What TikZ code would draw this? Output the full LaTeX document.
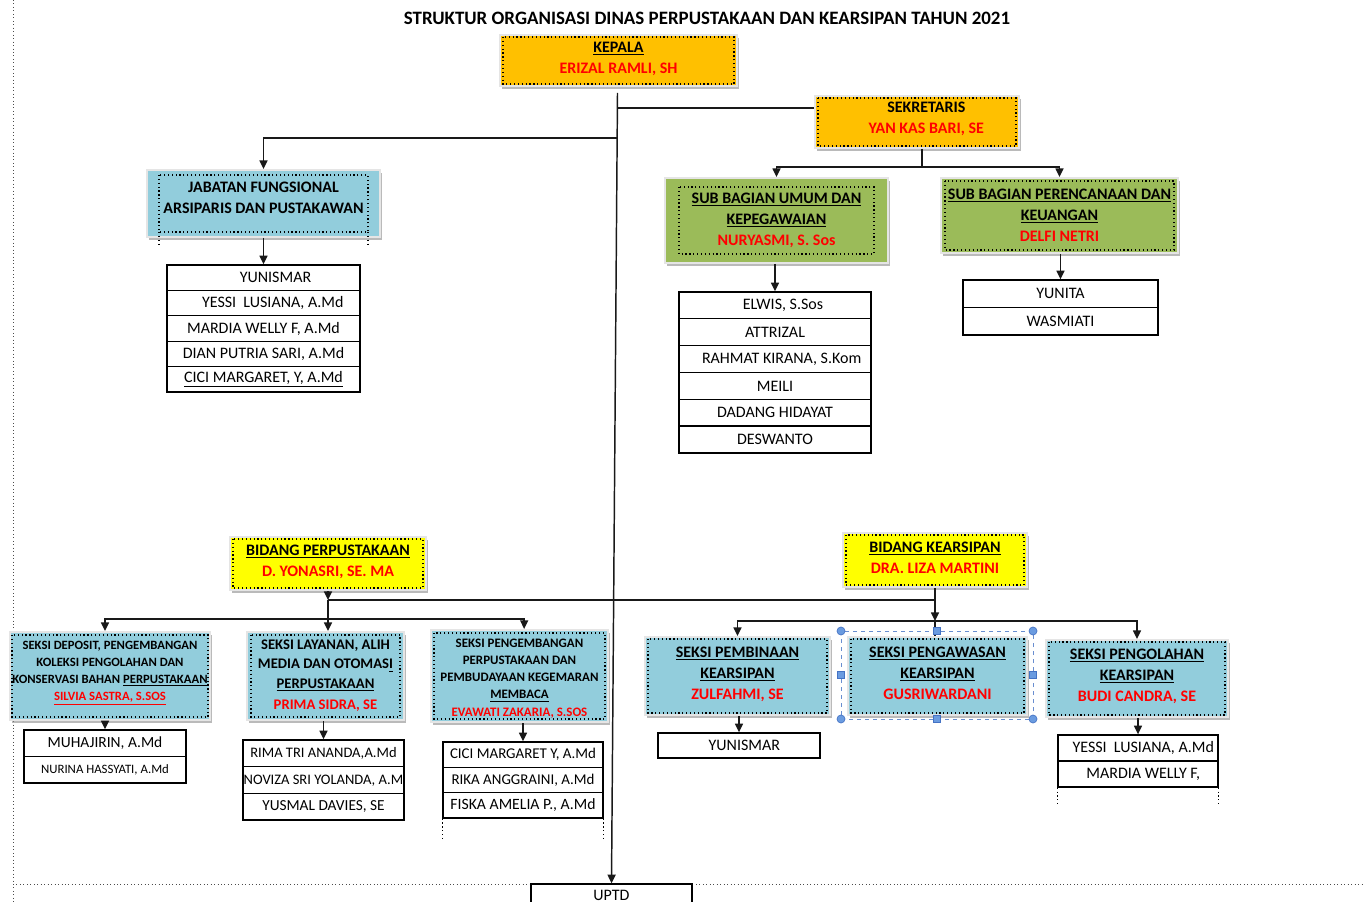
\documentclass[tikz,border=0pt]{standalone}
\usepackage{fontspec}
\setmainfont{Carlito}
\usetikzlibrary{shadows,arrows.meta,calc}
\definecolor{org}{HTML}{FFC000}
\definecolor{grn}{HTML}{9BBB59}
\definecolor{lblue}{HTML}{92CDDC}
\definecolor{ylw}{HTML}{FFFF00}
\definecolor{rd}{HTML}{FF0000}
\definecolor{selb}{HTML}{4472C4}
\definecolor{hfill}{HTML}{6A9BE0}
\newcommand\redname[1]{\textcolor{rd}{#1}}
\newcommand\dep[1]{\rule[-#1]{0pt}{#1}}
\begin{document}
\begin{tikzpicture}[x=0.75pt,y=-0.75pt,
  sz/.style 2 args={minimum width=#1*0.75pt, minimum height=#2*0.75pt},
  hdr/.style={font=\fontsize{12}{15.75}\selectfont\bfseries, align=center, inner sep=0pt,
    draw=black!10, line width=1.5pt,
    drop shadow={shadow xshift=1.5pt, shadow yshift=-2.5pt, fill=black!45, opacity=0.6}},
  staff/.style={draw=black, line width=1pt, fill=white, inner sep=0pt, font=\fontsize{12}{13}\selectfont},
  inframe/.style={dotted, line width=0.9pt, black},
  conn/.style={line width=1.1pt, black!90},
  arr/.style={conn, -{Triangle[length=6.5pt,width=6pt]}},
  sq/.style={draw=selb, fill=hfill, minimum size=5pt, inner sep=0pt, line width=0.5pt}]
\useasboundingbox (0,0) rectangle (1365,902);
\fill[white] (0,0) rectangle (1365,902);

% page borders
\draw[dotted, line width=0.6pt, black!70] (13,0) coordinate (bl1) -- (13,902) coordinate (bl2);
\draw[dotted, line width=0.6pt, black!70] (13,884) coordinate (bb1) -- (1365,884) coordinate (bb2);

% title
\node[font=\fontsize{14.2}{16}\selectfont\bfseries] (title) at (707,18)
  {STRUKTUR ORGANISASI DINAS PERPUSTAKAAN DAN KEARSIPAN TAHUN 2021};

% top level boxes
\node[hdr, fill=org, sz={237}{51}] (kep) at (618.5,60.5)
  {\underline{KEPALA}\\\redname{ERIZAL RAMLI, SH}\dep{4.5pt}};
\node[hdr, fill=org, sz={204}{52}] (sek) at (917,122)
  {\hspace*{14pt}SEKRETARIS\\\hspace*{14pt}\redname{YAN KAS BARI, SE}\dep{6.5pt}};
\node[hdr, fill=lblue, sz={233}{67}] (jf) at (263.5,203.5)
  {JABATAN FUNGSIONAL\\ARSIPARIS DAN PUSTAKAWAN\dep{9pt}};
\node[hdr, fill=grn, sz={223}{85}] (umum) at (776.5,220.5)
  {\underline{SUB BAGIAN UMUM DAN}\\\underline{KEPEGAWAIAN}\\\redname{NURYASMI, S. Sos}};
\node[hdr, fill=grn, sz={237}{75}] (per) at (1059.5,215.5)
  {\underline{SUB BAGIAN PERENCANAAN DAN}\\\underline{KEUANGAN}\\\redname{DELFI NETRI}};

% bidang boxes
\node[hdr, fill=ylw, sz={196}{53}] (bper) at (328,563.5)
  {\underline{BIDANG PERPUSTAKAAN}\\\redname{D. YONASRI, SE. MA}\dep{4.5pt}};
\node[hdr, fill=ylw, sz={184}{54}] (bkear) at (935,560)
  {\underline{BIDANG KEARSIPAN}\\\redname{DRA. LIZA MARTINI}\dep{4pt}};

% seksi boxes (perpustakaan)
\node[hdr, font=\fontsize{9.5}{12.75}\selectfont\bfseries, fill=lblue, sz={200}{88}] (sdep) at (110,676)
  {SEKSI DEPOSIT, PENGEMBANGAN\\KOLEKSI PENGOLAHAN DAN\\KONSERVASI BAHAN \underline{PERPUSTAKAAN}\\\textcolor{rd}{\underline{SILVIA SASTRA, S.SOS}}\dep{7.5pt}};
\node[hdr, font=\fontsize{11}{14.3}\selectfont\bfseries, fill=lblue, sz={157}{88}] (slay) at (325.5,676)
  {SEKSI LAYANAN, ALIH\\MEDIA DAN OTOMAS\underline{I}\\\underline{PERPUSTAKAAN}\\[1.5pt]\redname{PRIMA SIDRA, SE}\dep{2pt}};
\node[hdr, font=\fontsize{9.7}{12.9}\selectfont\bfseries, fill=lblue, sz={177}{92}] (speng) at (519.5,676)
  {\rule{0pt}{10pt}SEKSI PENGEMBANGAN\\PERPUSTAKAAN DAN\\PEMBUDAYAAN KEGEMARAN\\\underline{MEMBACA}\\\redname{EVAWATI ZAKARIA, S.SOS}};

% seksi boxes (kearsipan)
\node[hdr, fill=lblue, sz={185}{78}] (spemb) at (737.5,676)
  {\underline{SEKSI PEMBINAAN}\\\underline{KEARSIPAN}\\\redname{ZULFAHMI, SE}\dep{4.5pt}};
\node[hdr, fill=lblue, sz={179}{78}] (spengaw) at (937.5,676)
  {\underline{SEKSI PENGAWASAN}\\\underline{KEARSIPAN}\\\redname{GUSRIWARDANI}\dep{4.5pt}};
\node[hdr, fill=lblue, sz={182}{77}] (spengol) at (1137,678.5)
  {\underline{SEKSI PENGOLAHAN}\\\underline{KEARSIPAN}\\\redname{BUDI CANDRA, SE}\dep{5pt}};

% inner dotted frames
\foreach \n/\dx/\dy in {kep/4/3, sek/4/3, jf/13/6, umum/15/10, per/5/4, bper/4/3, bkear/4/3,
  sdep/3/4, slay/5/4, speng/4/4, spemb/4/3, spengaw/4/3, spengol/4/3}
  \draw[inframe] ([shift={(\dx,\dy)}]\n.north west) rectangle ([shift={(-\dx,-\dy)}]\n.south east);
\draw[inframe] ([shift={(13,-6)}]jf.south west) -- ++(0,13);
\draw[inframe] ([shift={(-13,-6)}]jf.south east) -- ++(0,13);

% staff lists
% jabatan fungsional
\node[staff, sz={193}{25.4}] (j1) at (263.5,277.7) {\hspace*{18pt}YUNISMAR};
\node[staff, sz={193}{25.4}] (j2) at (263.5,303.1) {\hspace*{14pt}YESSI\ \ LUSIANA, A.Md};
\node[staff, sz={193}{25.4}] (j3) at (263.5,328.5) {MARDIA WELLY F, A.Md};
\node[staff, sz={193}{25.4}] (j4) at (263.5,353.9) {DIAN PUTRIA SARI, A.Md};
\node[staff, sz={193}{25.4}] (j5) at (263.5,379.3) {\underline{CICI MARGARET, Y, A.Md}};
% umum
\node[staff, sz={192}{26.83}] (u1) at (775,305.4) {\hspace*{12pt}ELWIS, S.Sos};
\node[staff, sz={192}{26.83}] (u2) at (775,332.2) {ATTRIZAL};
\node[staff, sz={192}{26.83}] (u3) at (775,359.1) {\hspace*{10pt}RAHMAT KIRANA, S.Kom};
\node[staff, sz={192}{26.83}] (u4) at (775,385.9) {MEILI};
\node[staff, sz={192}{26.83}] (u5) at (775,412.7) {DADANG HIDAYAT};
\node[staff, sz={192}{26.83}] (u6) at (775,439.6) {DESWANTO};
% perencanaan
\node[staff, sz={195}{27.5}] (p1) at (1060.5,293.75) {YUNITA};
\node[staff, sz={195}{27.5}] (p2) at (1060.5,321.25) {WASMIATI};
% seksi deposit
\node[staff, sz={162}{26.5}, font=\fontsize{11.6}{13}\selectfont] (d1) at (105,743.25) {MUHAJIRIN, A.Md};
\node[staff, sz={162}{26.5}, font=\fontsize{9.6}{11}\selectfont] (d2) at (105,769.75) {NURINA HASSYATI, A.Md};
% seksi layanan
\node[staff, sz={161}{26.7}, font=\fontsize{10.9}{12}\selectfont] (l1) at (323.5,753.35) {RIMA TRI ANANDA,A.Md};
\node[staff, sz={161}{26.7}, font=\fontsize{10.9}{12}\selectfont,
  path picture={\node[anchor=west, inner sep=0pt, font=\fontsize{10.9}{12}\selectfont]
    at (path picture bounding box.west) {NOVIZA SRI YOLANDA, A.Md};}] (l2) at (323.5,780.05) {};
\node[staff, sz={161}{26.7}, font=\fontsize{11.5}{13}\selectfont] (l3) at (323.5,806.75) {YUSMAL DAVIES, SE};
% seksi pengembangan
\node[staff, sz={160}{25.3}, font=\fontsize{11.2}{12}\selectfont] (n1) at (523,754.65) {CICI MARGARET Y, A.Md};
\node[staff, sz={160}{25.3}, font=\fontsize{11.2}{12}\selectfont] (n2) at (523,779.95) {RIKA ANGGRAINI, A.Md};
\node[staff, sz={160}{25.3}, font=\fontsize{11.8}{13}\selectfont] (n3) at (523,805.25) {FISKA AMELIA P., A.Md};
\draw[inframe] (n3.south west) -- ++(0,20);
\draw[inframe] (n3.south east) -- ++(0,20);
% seksi pembinaan
\node[staff, sz={162}{25}] (m1) at (739,745.5) {\hspace*{8pt}YUNISMAR};
% seksi pengolahan
\node[staff, sz={160}{26}] (g1) at (1138,748) {\hspace*{8pt}YESSI\ \ LUSIANA, A.Md};
\node[staff, sz={160}{26}] (g2) at (1138,774) {\hspace*{8pt}MARDIA WELLY F,};
\draw[inframe] (g2.south west) -- ++(0,18);
\draw[inframe] (g2.south east) -- ++(0,18);
% UPTD
\node[staff, sz={161}{26}] (uptd) at (611.5,897) {UPTD\dep{2.5pt}};

% connectors
\coordinate (c1) at (617.5,108);
\coordinate (c2) at (617,138);
\draw[arr] ([shift={(-1,6)}]kep.south) -- (uptd.north);
\draw[conn] (c1) -- (c1 -| sek.west);
\draw[arr] (c2) -| (jf.north);
\draw[arr] (jf.south) -- (jf.south |- j1.north);

\coordinate (sj) at (922,167);
\draw[conn] (sj |- sek.south) -- (sj);
\draw[arr] (sj) -| (umum.north);
\draw[arr] (sj) -| (per.north);
\draw[arr] (umum.south -| u1.north) -- (u1.north);
\draw[arr] (per.south -| p1.north) -- (p1.north);

\coordinate (bj) at (328,600);
\coordinate (bj2) at (328,619);
\coordinate (kj) at (935,600);
\coordinate (kj2) at (935,621);
\draw[arr] (bper.south) -- (bj);
\draw[conn] (bj) -- (kj);
\draw[conn] (bj) -- (bj2);
\draw[arr] (bj2) -| ([xshift=-3.75pt]sdep.north);
\draw[arr] (bj2) -| ([xshift=3.5pt]speng.north);
\draw[arr] (bj2) -- (bj2 |- slay.north);
\draw[conn] (bkear.south) -- (kj);
\draw[arr] (kj) -- (kj2);
\draw[arr] (kj2) -| (spemb.north);
\draw[arr] (kj2) -| (spengol.north);
\draw[conn] (kj2) -- (kj2 |- spengaw.north);

\draw[arr] (sdep.south -| d1.north) -- (d1.north);
\draw[arr] (slay.south -| l1.north) -- (l1.north);
\draw[arr] (speng.south -| n1.north) -- (n1.north);
\draw[arr] (spemb.south -| m1.north) -- (m1.north);
\draw[arr] (spengol.south -| g1.north) -- (g1.north);

% selection frame
\path ([shift={(-6,-5)}]spengaw.north west) coordinate (s1)
      ([shift={(5,3)}]spengaw.south east) coordinate (s2);
\draw[selb!80, dashed, line width=0.6pt] (s1) rectangle (s2);
\foreach \p in {(s1), (s1 -| s2), (s2), (s1 |- s2)}
  \filldraw[fill=hfill, draw=selb, line width=0.5pt] \p circle[radius=3pt];
\node[sq] (h1) at ($(s1)!0.5!(s1 -| s2)$) {};
\node[sq] (h2) at ($(s1 |- s2)!0.5!(s2)$) {};
\node[sq] (h3) at ($(s1)!0.5!(s1 |- s2)$) {};
\node[sq] (h4) at ($(s1 -| s2)!0.5!(s2)$) {};
\end{tikzpicture}
\end{document}
